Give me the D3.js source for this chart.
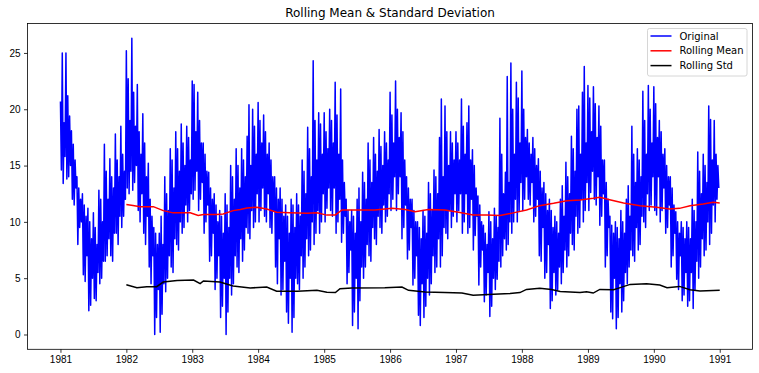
<!DOCTYPE html>
<html>
<head>
<meta charset="utf-8">
<script src="https://cdn.jsdelivr.net/npm/d3@7"></script>
<style>
    body { margin: 0; background: #fff; }
    svg { display: block; font-family: "DejaVu Sans", sans-serif; }
    .tick text { font-size: 10px; fill: #000; }
    .title { font-size: 12px; fill: #000; }
    .legend-label { font-size: 10px; fill: #000; }
</style>
</head>
<body>
<div id="chart"></div>
<script>
// daily minimum temperature: swings of ~5 days (3 highs, 3 lows per month)
const years = [1981, 1982, 1983, 1984, 1985, 1986, 1987, 1988, 1989, 1990];
const temps1981 = [20.7,14.6,25.0,13.4,18.8,15.8, 25.0,13.8,21.2,14.0,19.4,15.0, 18.1,12.0,16.9,11.5,15.5,13.0, 14.0,8.0,13.0,9.5,12.0,10.0, 12.5,5.3,11.5,4.7,10.5,7.0, 11.2,2.1,10.0,2.6,8.5,5.0, 10.8,3.2,9.5,3.0,8.0,5.5, 12.8,4.5,12.0,5.0,10.0,6.5, 16.9,6.5,14.5,7.0,12.0,8.5, 15.6,7.0,14.0,6.5,13.0,9.0, 17.8,9.0,15.5,8.0,14.0,10.5, 18.5,9.5,16.0,10.5,14.5,12.0];
const temps1982 = [25.2,13.0,22.7,12.5,19.0,14.5, 26.3,12.8,21.5,13.5,18.5,15.0, 22.2,11.0,18.0,10.0,16.0,12.5, 19.6,9.0,17.0,8.0,14.0,10.5, 15.2,6.0,12.0,4.5,10.5,7.0, 9.5,0.0,9.0,1.5,8.0,4.0, 9.0,0.2,10.5,1.8,8.0,4.5, 14.0,3.8,12.5,5.0,11.0,7.0, 16.5,6.0,15.5,5.5,13.0,8.5, 18.0,8.0,16.5,7.5,14.5,10.0, 18.7,9.0,17.0,9.5,15.0,11.5, 18.5,10.0,17.5,11.0,15.5,12.5];
const temps1983 = [22.5,12.0,22.2,12.8,18.0,14.5, 21.5,11.0,19.0,12.0,17.0,13.5, 17.0,9.0,16.0,10.0,14.5,11.5, 14.4,6.5,13.0,7.0,12.0,9.0, 12.5,4.0,11.5,5.0,10.0,7.0, 11.0,1.5,10.5,2.5,9.0,5.0, 12.5,0.0,11.5,2.0,9.5,5.0, 15.0,3.5,14.0,4.5,12.0,7.0, 16.5,6.0,15.0,5.5,13.0,8.5, 16.5,6.5,15.5,7.5,14.0,9.5, 17.6,9.0,20.4,8.5,15.0,11.0, 20.0,9.5,18.5,10.0,16.0,12.5];
const temps1984 = [20.6,10.0,19.0,11.0,17.0,13.0, 19.5,10.5,18.0,10.0,16.0,12.5, 17.0,9.5,15.5,9.0,14.0,11.0, 14.0,6.0,13.0,4.5,12.0,8.5, 13.0,3.5,12.0,4.0,10.5,6.5, 11.5,2.0,10.5,1.0,9.0,5.0, 12.0,0.2,11.5,1.5,9.5,5.0, 12.5,4.5,11.5,4.0,10.5,7.0, 15.5,5.0,14.5,6.0,12.5,8.5, 18.4,7.0,16.5,7.5,14.0,10.0, 24.3,8.0,19.0,9.0,15.5,11.0, 19.7,9.0,18.7,10.0,16.0,12.5];
const temps1985 = [19.7,10.0,18.0,11.2,16.5,13.0, 20.0,11.0,19.0,10.5,17.0,13.0, 22.4,9.0,19.5,10.0,16.0,12.0, 21.8,8.2,15.5,9.0,13.5,10.5, 12.0,4.5,11.0,5.5,10.0,7.5, 11.0,0.8,10.5,2.0,9.0,5.0, 12.0,0.5,13.0,3.0,10.0,6.0, 14.4,5.0,13.5,6.0,12.0,8.0, 17.0,7.0,15.5,6.5,13.5,9.5, 17.5,8.5,16.0,8.0,14.5,10.5, 18.2,9.5,16.7,9.0,15.0,11.5, 18.0,10.0,17.0,10.5,15.5,12.5];
const temps1986 = [21.5,11.0,19.5,12.0,17.0,14.0, 22.5,11.0,20.0,12.5,17.5,14.0, 19.7,8.5,18.0,9.5,15.5,11.5, 14.0,6.7,13.0,7.5,12.0,9.5, 12.0,4.4,11.0,5.0,10.0,7.0, 10.0,1.7,9.5,0.8,8.5,4.5, 11.0,1.5,10.5,2.5,9.0,5.0, 13.5,3.5,12.5,4.5,11.0,7.0, 14.6,5.5,14.0,6.0,12.5,8.5, 17.5,6.0,20.9,7.0,14.0,9.5, 20.3,9.0,18.0,8.5,15.0,11.0, 18.0,9.5,17.0,10.5,15.5,12.5];
const temps1987 = [18.0,10.0,17.0,11.0,15.5,12.5, 20.9,9.0,18.5,10.0,16.0,12.5, 18.8,9.0,20.3,9.5,15.5,12.0, 16.4,7.5,15.0,8.8,13.0,10.5, 12.3,4.4,11.5,6.0,10.0,7.5, 9.7,2.9,9.0,3.5,8.0,5.5, 10.9,1.6,10.0,2.5,8.5,5.0, 11.2,4.0,10.5,4.9,9.5,6.5, 19.2,6.0,16.0,7.0,12.5,8.5, 14.4,7.5,22.9,8.0,13.5,10.0, 24.1,9.0,20.0,10.0,16.0,12.0, 22.4,10.0,21.0,11.0,17.0,13.5];
const temps1988 = [23.4,11.0,20.0,12.0,17.5,14.0, 18.2,12.0,17.0,11.5,16.0,13.5, 17.5,10.0,16.5,10.5,15.0,12.0, 15.6,7.0,14.5,6.5,13.0,9.5, 13.5,5.0,12.5,5.5,11.0,8.0, 12.0,2.3,11.0,3.0,9.5,5.5, 10.5,3.5,10.0,4.0,9.0,6.0, 12.0,4.5,13.2,5.5,10.5,7.5, 15.3,6.0,14.0,7.0,12.5,9.0, 17.6,8.0,16.5,7.5,14.5,10.5, 20.0,9.0,20.3,9.5,16.0,12.0, 21.5,10.0,23.8,11.0,17.0,13.5];
const temps1989 = [22.1,11.0,21.0,12.6,18.0,14.5, 22.0,12.0,20.5,11.5,17.5,14.0, 20.3,9.7,18.5,10.5,15.5,12.5, 15.5,6.0,13.5,7.0,12.0,9.5, 10.5,2.0,9.7,1.4,9.0,5.0, 10.0,0.5,9.5,1.5,8.5,4.5, 11.0,2.0,10.0,3.0,9.0,5.5, 12.0,4.5,13.2,6.0,10.5,7.5, 18.5,7.0,16.0,6.5,13.5,9.5, 16.5,7.5,15.5,8.0,14.0,10.5, 21.6,10.0,19.0,9.5,16.0,12.5, 22.1,11.0,20.0,11.5,17.0,14.0];
const temps1990 = [22.0,11.0,20.5,10.6,17.5,14.0, 19.0,10.0,18.0,11.0,16.0,13.0, 16.5,9.0,15.0,9.5,14.0,11.5, 14.0,6.0,13.0,7.0,11.5,9.0, 10.9,4.9,10.0,4.0,9.0,7.0, 10.0,3.0,9.5,3.5,8.5,5.5, 10.0,2.5,9.5,3.0,8.5,5.5, 12.0,2.3,11.0,4.0,10.0,6.5, 16.2,5.0,14.5,6.0,12.5,8.5, 16.0,7.0,15.0,7.5,13.5,10.0, 20.3,8.0,19.1,9.0,15.5,11.5, 19.0,10.0,16.0,12.0,15.0,13.0];
const tempsByYear = [temps1981, temps1982, temps1983, temps1984, temps1985, temps1986, temps1987, temps1988, temps1989, temps1990];

// rolling (365 day) mean
const meanTimes = [1982.00,1982.10,1982.21,1982.41,1982.56,1982.71,1982.97,1983.09,1983.17,1983.37,1983.47,1983.62,1983.73,1983.83,1983.98,1984.13,1984.28,1984.48,1984.74,1984.89,1985.04,1985.17,1985.27,1985.52,1985.77,1986.03,1986.23,1986.38,1986.58,1986.83,1987.04,1987.26,1987.47,1987.67,1987.87,1988.07,1988.27,1988.48,1988.68,1988.88,1989.08,1989.18,1989.33,1989.54,1989.79,1990.04,1990.24,1990.39,1990.55,1990.75,1990.90,1991.00];
const meanValues = [11.55,11.45,11.35,11.35,11.0,10.8,10.8,10.56,10.65,10.65,10.7,11.0,11.09,11.24,11.3,11.15,10.85,10.8,10.76,10.8,10.6,10.62,11.06,11.06,11.06,11.2,11.09,10.9,11.09,11.06,10.85,10.62,10.62,10.56,10.8,11.06,11.44,11.65,11.88,11.94,12.09,12.18,11.97,11.67,11.44,11.29,11.15,11.2,11.44,11.59,11.74,11.68];

// rolling (365 day) standard deviation
const stdTimes = [1982.00,1982.16,1982.31,1982.46,1982.56,1982.77,1983.02,1983.12,1983.17,1983.42,1983.62,1983.88,1984.13,1984.28,1984.59,1984.89,1985.04,1985.17,1985.24,1985.42,1985.92,1986.18,1986.28,1986.53,1986.83,1987.09,1987.26,1987.57,1987.82,1987.97,1988.07,1988.27,1988.45,1988.58,1988.88,1988.98,1989.08,1989.18,1989.39,1989.49,1989.64,1989.89,1990.09,1990.20,1990.39,1990.55,1990.70,1991.00];
const stdValues = [4.42,4.16,4.25,4.25,4.66,4.8,4.84,4.51,4.75,4.66,4.3,4.13,4.22,3.84,3.84,3.92,3.75,3.72,4.07,4.13,4.16,4.22,3.92,3.78,3.72,3.69,3.48,3.57,3.63,3.72,4.0,4.11,4.0,3.82,3.72,3.8,3.68,4.0,3.98,4.16,4.45,4.5,4.39,4.16,4.27,3.98,3.86,3.92];

const xTicks = [1981, 1982, 1983, 1984, 1985, 1986, 1987, 1988, 1989, 1990, 1991];
const seriesNames = ["Original", "Rolling Mean", "Rolling Std"];
const seriesColors = ["blue", "red", "black"];

const width = 759, height = 373;
const margin = {top: 23.5, right: 6.5, bottom: 23.7, left: 27.5};

// decimal year -> Date
function yearToDate(t) {
    let y = Math.floor(t);
    let start = new Date(y, 0, 1), end = new Date(y + 1, 0, 1);
    return new Date(+start + (t - y) * (end - start));
}

let original = [];
years.forEach(function(y, k) {
    let vals = tempsByYear[k];
    let start = new Date(y, 0, 1);
    let step = (new Date(y + 1, 0, 1) - start) / vals.length;
    vals.forEach(function(v, i) {
        original.push({date: new Date(+start + i * step), value: v});
    });
});
let rollMean = meanTimes.map((t, i) => ({date: yearToDate(t), value: meanValues[i]}));
let rollStd = stdTimes.map((t, i) => ({date: yearToDate(t), value: stdValues[i]}));

let svg = d3.select("#chart").append("svg")
    .attr("width", width)
    .attr("height", height);

// matplotlib style 5% padding around the data
let t0 = new Date(1981, 0, 1), t1 = new Date(1990, 11, 31);
let padT = (t1 - t0) * 0.05;
let x = d3.scaleTime()
    .domain([new Date(+t0 - padT), new Date(+t1 + padT)])
    .range([margin.left, width - margin.right]);

let yMax = d3.max(original, d => d.value), yMin = d3.min(original, d => d.value);
let padV = (yMax - yMin) * 0.05;
let y = d3.scaleLinear()
    .domain([yMin - padV, yMax + padV])
    .range([height - margin.bottom, margin.top]);

let line = d3.line()
    .x(d => x(d.date))
    .y(d => y(d.value));

svg.append("path")
    .datum(original)
    .attr("fill", "none")
    .attr("stroke", seriesColors[0])
    .attr("stroke-width", 1.5)
    .attr("stroke-linejoin", "round")
    .attr("d", line);

svg.append("path")
    .datum(rollMean)
    .attr("fill", "none")
    .attr("stroke", seriesColors[1])
    .attr("stroke-width", 1.5)
    .attr("d", line);

svg.append("path")
    .datum(rollStd)
    .attr("fill", "none")
    .attr("stroke", seriesColors[2])
    .attr("stroke-width", 1.5)
    .attr("d", line);

// axes
let xAxis = d3.axisBottom(x)
    .tickValues(xTicks.map(t => new Date(t, 0, 1)))
    .tickFormat(d3.timeFormat("%Y"))
    .tickSize(3.5)
    .tickPadding(3.5);
let yAxis = d3.axisLeft(y)
    .tickValues([0, 5, 10, 15, 20, 25])
    .tickSize(3.5)
    .tickPadding(3.5);

let gx = svg.append("g")
    .attr("transform", "translate(0," + (height - margin.bottom) + ")")
    .call(xAxis);
let gy = svg.append("g")
    .attr("transform", "translate(" + margin.left + ",0)")
    .call(yAxis);
[gx, gy].forEach(function(g) {
    g.select(".domain").remove();
    g.selectAll(".tick line").attr("stroke", "#000").attr("stroke-width", 0.8);
});

// frame
svg.append("rect")
    .attr("x", margin.left)
    .attr("y", margin.top)
    .attr("width", width - margin.left - margin.right)
    .attr("height", height - margin.top - margin.bottom)
    .attr("fill", "none")
    .attr("stroke", "#000")
    .attr("stroke-width", 0.8);

svg.append("text")
    .attr("class", "title")
    .attr("x", (margin.left + width - margin.right) / 2)
    .attr("y", margin.top - 6.5)
    .attr("text-anchor", "middle")
    .text("Rolling Mean & Standard Deviation");

// legend
let legend = svg.append("g").attr("transform", "translate(647.5,28.5)");
legend.append("rect")
    .attr("width", 99.5)
    .attr("height", 47.5)
    .attr("rx", 2)
    .attr("fill", "#fff")
    .attr("fill-opacity", 0.8)
    .attr("stroke", "#cccccc")
    .attr("stroke-width", 0.8);

let rows = legend.selectAll(".legend-row")
    .data(seriesNames)
    .enter()
    .append("g")
    .attr("class", "legend-row")
    .attr("transform", (d, i) => "translate(0," + (7.5 + i * 14.8) + ")");
rows.append("line")
    .attr("x1", 3)
    .attr("x2", 24)
    .attr("stroke", (d, i) => seriesColors[i])
    .attr("stroke-width", 1.5);
rows.append("text")
    .attr("class", "legend-label")
    .attr("x", 32)
    .attr("dy", "0.35em")
    .text(d => d);
</script>
</body>
</html>
